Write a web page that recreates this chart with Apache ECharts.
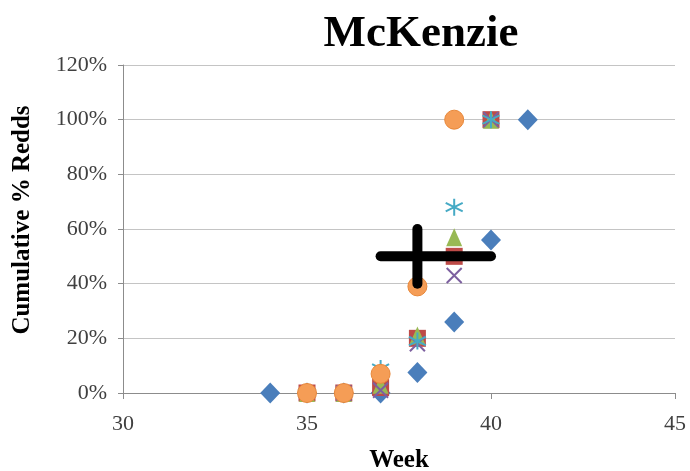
<!DOCTYPE html>
<html>
<head>
<meta charset="utf-8">
<script src="https://cdn.jsdelivr.net/npm/echarts@6/dist/echarts.min.js"></script>
<style>
  html, body { margin: 0; padding: 0; background: #fff; }
  #chart { width: 690px; height: 471px; }
</style>
</head>
<body>
<div id="chart"></div>
<script>
// Weekly cumulative redd percentages, one list per survey series
const blueWeeks = [34, 35, 36, 37, 38, 39, 40, 41];
const bluePct = [0, 0, 0, 0, 7.5, 26, 56, 100];
const redWeeks = [35, 36, 37, 38, 39, 40];
const redPct = [0, 0, 2, 20, 50, 100];
const greenWeeks = [35, 36, 37, 38, 39, 40];
const greenPct = [0, 0, 3, 21, 57, 100];
const purpleWeeks = [36, 37, 38, 39, 40];
const purplePct = [0, 1, 18, 43, 100];
const cyanWeeks = [35, 36, 37, 38, 39, 40];
const cyanPct = [0, 0, 9, 19, 68, 100];
const orangeWeeks = [35, 36, 37, 38, 39];
const orangePct = [0, 0, 7, 39, 100];

// 50% crossing: centre and its spread in weeks and in percent
const midWeek = 38;
const midPct = 50;
const midWeekRange = [37, 40];
const midPctRange = [40, 60];

const xTicks = [30, 35, 40, 45];
const yTicks = [0, 20, 40, 60, 80, 100, 120];

const serif = '"Liberation Serif", "Times New Roman", serif';

function pairs(xs, ys) {
  return xs.map((x, i) => [x, ys[i]]);
}

const xMarkPath = 'path://M0,0 L10,10 M0,10 L10,0';
const starPath = 'path://M5,0 L5,10 M0.7,2.5 L9.3,7.5 M0.7,7.5 L9.3,2.5';

const chart = echarts.init(document.getElementById('chart'), null, { renderer: 'canvas' });

chart.setOption({
  animation: false,
  backgroundColor: '#ffffff',
  title: {
    text: 'McKenzie',
    left: 416,
    textAlign: 'center',
    top: 7,
    textStyle: { fontFamily: serif, fontWeight: 'bold', fontSize: 45, color: '#000' }
  },
  grid: { left: 123, right: 15, top: 65, bottom: 78, outerBoundsMode: 'none', containLabel: false },
  xAxis: {
    type: 'value',
    min: xTicks[0],
    max: xTicks[xTicks.length - 1],
    interval: 5,
    name: 'Week',
    nameLocation: 'middle',
    nameGap: 55,
    nameTextStyle: { fontFamily: serif, fontWeight: 'bold', fontSize: 25, color: '#000' },
    axisLine: { lineStyle: { color: '#8c8c8c', width: 1 } },
    axisTick: { show: true, length: 6, lineStyle: { color: '#8c8c8c' } },
    axisLabel: { fontFamily: serif, fontSize: 22, color: '#404040', margin: 20 },
    splitLine: { show: false }
  },
  yAxis: {
    type: 'value',
    min: yTicks[0],
    max: yTicks[yTicks.length - 1],
    interval: 20,
    name: 'Cumulative % Redds',
    nameLocation: 'middle',
    nameGap: 88,
    nameRotate: 90,
    nameTextStyle: { fontFamily: serif, fontWeight: 'bold', fontSize: 25, color: '#000', padding: [0, 0, 0, 18] },
    axisLine: { show: true, lineStyle: { color: '#8c8c8c', width: 1 } },
    axisTick: { show: true, length: 5, lineStyle: { color: '#8c8c8c' } },
    axisLabel: { fontFamily: serif, fontSize: 22, color: '#404040', margin: 16, formatter: '{value}%' },
    splitLine: { show: true, lineStyle: { color: '#c4c4c4', width: 1 } }
  },
  series: [
    {
      name: 'Series1', type: 'scatter', data: pairs(blueWeeks, bluePct),
      symbol: 'diamond', symbolSize: [20, 21],
      itemStyle: { color: '#4a7ebb', opacity: 1 }
    },
    {
      name: 'Series2', type: 'scatter', data: pairs(redWeeks, redPct),
      symbol: 'rect', symbolSize: 17,
      itemStyle: { color: '#be4b48', opacity: 1 }
    },
    {
      name: 'Series3', type: 'scatter', data: pairs(greenWeeks, greenPct),
      symbol: 'triangle', symbolSize: [16, 18],
      itemStyle: { color: '#98b954', opacity: 1 }
    },
    {
      name: 'Series4', type: 'scatter', data: pairs(purpleWeeks, purplePct),
      symbol: xMarkPath, symbolSize: 15,
      itemStyle: { color: 'rgba(0,0,0,0)', borderColor: '#7d60a0', borderWidth: 2, opacity: 1 }
    },
    {
      name: 'Series5', type: 'scatter', data: pairs(cyanWeeks, cyanPct),
      symbol: starPath, symbolSize: 17,
      itemStyle: { color: 'rgba(0,0,0,0)', borderColor: '#46aac5', borderWidth: 2, opacity: 1 }
    },
    {
      name: 'Series6', type: 'scatter', data: pairs(orangeWeeks, orangePct),
      symbol: 'circle', symbolSize: 19,
      itemStyle: { color: '#f59d56', borderColor: '#e8883a', borderWidth: 1, opacity: 1 }
    },
    {
      name: 'Midpoint', type: 'custom', z: 10,
      data: [[midWeek, midPct, midWeekRange[0], midWeekRange[1], midPctRange[0], midPctRange[1]]],
      renderItem: function (params, api) {
        const l = api.coord([api.value(2), api.value(1)]);
        const r = api.coord([api.value(3), api.value(1)]);
        const b = api.coord([api.value(0), api.value(4)]);
        const t = api.coord([api.value(0), api.value(5)]);
        const style = { stroke: '#000', lineWidth: 10, lineCap: 'round' };
        return {
          type: 'group',
          children: [
            { type: 'line', shape: { x1: l[0], y1: l[1], x2: r[0], y2: r[1] }, style: style },
            { type: 'line', shape: { x1: b[0], y1: b[1], x2: t[0], y2: t[1] }, style: style }
          ]
        };
      }
    }
  ]
});
</script>
</body>
</html>
